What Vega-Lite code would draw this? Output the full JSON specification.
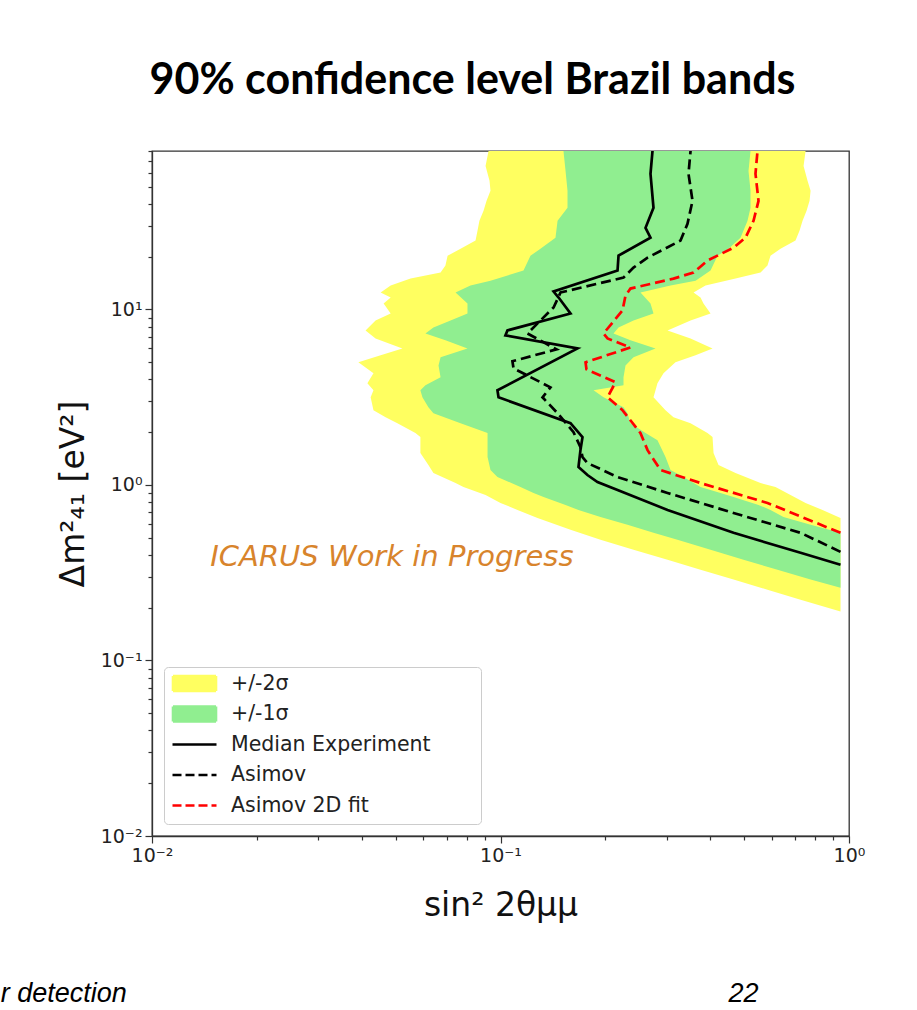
{
  "$schema": "https://vega.github.io/schema/vega-lite/v6.json",
  "width": 697,
  "height": 685,
  "autosize": {"type": "none"},
  "padding": {"left": 152, "top": 151, "right": 68, "bottom": 174},
  "background": "white",
  "title": {
    "text": "90% confidence level Brazil bands",
    "font": "Lato",
    "fontSize": 43,
    "fontWeight": "bold",
    "color": "black",
    "anchor": "middle",
    "baseline": "alphabetic",
    "dx": -28,
    "offset": 5
  },
  "config": {
    "view": {"stroke": "#333333", "strokeWidth": 1.3},
    "axis": {
      "grid": false,
      "domainColor": "#333333",
      "domainWidth": 1.3,
      "tickColor": "#333333",
      "tickWidth": 1.2,
      "labelFont": "DejaVu Sans",
      "labelFontSize": 19,
      "labelColor": "#222222",
      "labelPadding": 3,
      "labelOverlap": false,
      "labelFlush": false,
      "titleFont": "DejaVu Sans",
      "titleFontSize": 33,
      "titleFontWeight": "normal",
      "titleColor": "#111111"
    }
  },
  "datasets": {
    "empty": [],
    "bands": [
      {"series": "+/-2σ", "y": 80, "lo": 0.0924, "hi": 0.7506},
      {"series": "+/-2σ", "y": 65.8, "lo": 0.0906, "hi": 0.7407},
      {"series": "+/-2σ", "y": 54.1, "lo": 0.093, "hi": 0.7604},
      {"series": "+/-2σ", "y": 47.5, "lo": 0.0936, "hi": 0.7758},
      {"series": "+/-2σ", "y": 41.6, "lo": 0.0912, "hi": 0.7706},
      {"series": "+/-2σ", "y": 36.5, "lo": 0.0894, "hi": 0.7555},
      {"series": "+/-2σ", "y": 32.0, "lo": 0.087, "hi": 0.7358},
      {"series": "+/-2σ", "y": 28.1, "lo": 0.0859, "hi": 0.7211},
      {"series": "+/-2σ", "y": 24.7, "lo": 0.0848, "hi": 0.7023},
      {"series": "+/-2σ", "y": 22.2, "lo": 0.0768, "hi": 0.636},
      {"series": "+/-2σ", "y": 20.27, "lo": 0.0705, "hi": 0.5953},
      {"series": "+/-2σ", "y": 17.8, "lo": 0.0695, "hi": 0.5836},
      {"series": "+/-2σ", "y": 16.23, "lo": 0.0673, "hi": 0.5573},
      {"series": "+/-2σ", "y": 15.0, "lo": 0.0552, "hi": 0.4725},
      {"series": "+/-2σ", "y": 13.7, "lo": 0.0484, "hi": 0.3875},
      {"series": "+/-2σ", "y": 12.5, "lo": 0.0453, "hi": 0.358},
      {"series": "+/-2σ", "y": 11.7, "lo": 0.0484, "hi": 0.3749},
      {"series": "+/-2σ", "y": 10.82, "lo": 0.0462, "hi": 0.3824},
      {"series": "+/-2σ", "y": 9.49, "lo": 0.0484, "hi": 0.4006},
      {"series": "+/-2σ", "y": 8.66, "lo": 0.0438, "hi": 0.351},
      {"series": "+/-2σ", "y": 7.6, "lo": 0.041, "hi": 0.3015},
      {"series": "+/-2σ", "y": 6.84, "lo": 0.0438, "hi": 0.351},
      {"series": "+/-2σ", "y": 6.0, "lo": 0.0523, "hi": 0.4059},
      {"series": "+/-2σ", "y": 5.48, "lo": 0.0453, "hi": 0.3628},
      {"series": "+/-2σ", "y": 5.0, "lo": 0.0391, "hi": 0.3177},
      {"series": "+/-2σ", "y": 4.33, "lo": 0.0432, "hi": 0.2936},
      {"series": "+/-2σ", "y": 3.8, "lo": 0.0415, "hi": 0.2821},
      {"series": "+/-2σ", "y": 3.47, "lo": 0.0432, "hi": 0.2785},
      {"series": "+/-2σ", "y": 3.16, "lo": 0.0424, "hi": 0.2748},
      {"series": "+/-2σ", "y": 2.67, "lo": 0.0432, "hi": 0.2975},
      {"series": "+/-2σ", "y": 2.435, "lo": 0.0468, "hi": 0.3136},
      {"series": "+/-2σ", "y": 2.25, "lo": 0.0506, "hi": 0.351},
      {"series": "+/-2σ", "y": 1.975, "lo": 0.057, "hi": 0.3926},
      {"series": "+/-2σ", "y": 1.874, "lo": 0.0589, "hi": 0.4059},
      {"series": "+/-2σ", "y": 1.52, "lo": 0.0589, "hi": 0.4086},
      {"series": "+/-2σ", "y": 1.3, "lo": 0.0621, "hi": 0.4223},
      {"series": "+/-2σ", "y": 1.17, "lo": 0.0642, "hi": 0.4725},
      {"series": "+/-2σ", "y": 1.026, "lo": 0.0743, "hi": 0.5573},
      {"series": "+/-2σ", "y": 0.974, "lo": 0.0783, "hi": 0.6153},
      {"series": "+/-2σ", "y": 0.877, "lo": 0.0906, "hi": 0.6796},
      {"series": "+/-2σ", "y": 0.79, "lo": 0.1, "hi": 0.7506},
      {"series": "+/-2σ", "y": 0.721, "lo": 0.1119, "hi": 0.8395},
      {"series": "+/-2σ", "y": 0.649, "lo": 0.1277, "hi": 0.9454},
      {"series": "+/-2σ", "y": 0.555, "lo": 0.1588, "hi": 0.9454},
      {"series": "+/-2σ", "y": 0.487, "lo": 0.1936, "hi": 0.9454},
      {"series": "+/-2σ", "y": 0.427, "lo": 0.2408, "hi": 0.9454},
      {"series": "+/-2σ", "y": 0.375, "lo": 0.3015, "hi": 0.9454},
      {"series": "+/-2σ", "y": 0.329, "lo": 0.3749, "hi": 0.9454},
      {"series": "+/-2σ", "y": 0.289, "lo": 0.4663, "hi": 0.9454},
      {"series": "+/-2σ", "y": 0.253, "lo": 0.5836, "hi": 0.9454},
      {"series": "+/-2σ", "y": 0.222, "lo": 0.7261, "hi": 0.9454},
      {"series": "+/-2σ", "y": 0.19, "lo": 0.9454, "hi": 0.9454},
      {"series": "+/-1σ", "y": 80, "lo": 0.1516, "hi": 0.5217},
      {"series": "+/-1σ", "y": 61.6, "lo": 0.1537, "hi": 0.5148},
      {"series": "+/-1σ", "y": 47.5, "lo": 0.1557, "hi": 0.5217},
      {"series": "+/-1σ", "y": 37.97, "lo": 0.1557, "hi": 0.5217},
      {"series": "+/-1σ", "y": 32.0, "lo": 0.1458, "hi": 0.5115},
      {"series": "+/-1σ", "y": 25.66, "lo": 0.1438, "hi": 0.4884},
      {"series": "+/-1σ", "y": 22.2, "lo": 0.1302, "hi": 0.4511},
      {"series": "+/-1σ", "y": 20.27, "lo": 0.1219, "hi": 0.4195},
      {"series": "+/-1σ", "y": 16.66, "lo": 0.1164, "hi": 0.4006},
      {"series": "+/-1σ", "y": 14.6, "lo": 0.0936, "hi": 0.3628},
      {"series": "+/-1σ", "y": 13.7, "lo": 0.082, "hi": 0.3075},
      {"series": "+/-1σ", "y": 12.5, "lo": 0.0743, "hi": 0.2522},
      {"series": "+/-1σ", "y": 10.82, "lo": 0.0804, "hi": 0.2694},
      {"series": "+/-1σ", "y": 9.49, "lo": 0.0804, "hi": 0.2748},
      {"series": "+/-1σ", "y": 8.66, "lo": 0.0719, "hi": 0.2408},
      {"series": "+/-1σ", "y": 7.9, "lo": 0.0642, "hi": 0.2181},
      {"series": "+/-1σ", "y": 7.3, "lo": 0.0609, "hi": 0.211},
      {"series": "+/-1σ", "y": 6.67, "lo": 0.0695, "hi": 0.236},
      {"series": "+/-1σ", "y": 6.0, "lo": 0.0804, "hi": 0.2785},
      {"series": "+/-1σ", "y": 5.34, "lo": 0.0673, "hi": 0.2408},
      {"series": "+/-1σ", "y": 4.8, "lo": 0.0664, "hi": 0.2284},
      {"series": "+/-1σ", "y": 4.11, "lo": 0.0673, "hi": 0.2254},
      {"series": "+/-1σ", "y": 3.7, "lo": 0.0609, "hi": 0.2254},
      {"series": "+/-1σ", "y": 3.47, "lo": 0.0589, "hi": 0.1849},
      {"series": "+/-1σ", "y": 3.16, "lo": 0.0597, "hi": 0.1975},
      {"series": "+/-1σ", "y": 2.775, "lo": 0.0621, "hi": 0.2254},
      {"series": "+/-1σ", "y": 2.565, "lo": 0.0642, "hi": 0.2314},
      {"series": "+/-1σ", "y": 2.25, "lo": 0.0768, "hi": 0.236},
      {"series": "+/-1σ", "y": 1.975, "lo": 0.0918, "hi": 0.2607},
      {"series": "+/-1σ", "y": 1.8, "lo": 0.0918, "hi": 0.2821},
      {"series": "+/-1σ", "y": 1.443, "lo": 0.0918, "hi": 0.2975},
      {"series": "+/-1σ", "y": 1.217, "lo": 0.0936, "hi": 0.3075},
      {"series": "+/-1σ", "y": 1.11, "lo": 0.098, "hi": 0.3351},
      {"series": "+/-1σ", "y": 0.974, "lo": 0.1141, "hi": 0.3749},
      {"series": "+/-1σ", "y": 0.901, "lo": 0.1244, "hi": 0.4279},
      {"series": "+/-1σ", "y": 0.855, "lo": 0.1329, "hi": 0.4663},
      {"series": "+/-1σ", "y": 0.77, "lo": 0.1537, "hi": 0.55},
      {"series": "+/-1σ", "y": 0.721, "lo": 0.1674, "hi": 0.5953},
      {"series": "+/-1σ", "y": 0.658, "lo": 0.1936, "hi": 0.6487},
      {"series": "+/-1σ", "y": 0.593, "lo": 0.2314, "hi": 0.7758},
      {"series": "+/-1σ", "y": 0.534, "lo": 0.2748, "hi": 0.9454},
      {"series": "+/-1σ", "y": 0.487, "lo": 0.3219, "hi": 0.9454},
      {"series": "+/-1σ", "y": 0.427, "lo": 0.4006, "hi": 0.9454},
      {"series": "+/-1σ", "y": 0.375, "lo": 0.4981, "hi": 0.9454},
      {"series": "+/-1σ", "y": 0.329, "lo": 0.6234, "hi": 0.9454},
      {"series": "+/-1σ", "y": 0.289, "lo": 0.7758, "hi": 0.9454},
      {"series": "+/-1σ", "y": 0.26, "lo": 0.9454, "hi": 0.9454}
    ],
    "lines": [
      {"series": "Median Experiment", "y": 80, "x": 0.273},
      {"series": "Median Experiment", "y": 59.3, "x": 0.2694},
      {"series": "Median Experiment", "y": 37.97, "x": 0.2748},
      {"series": "Median Experiment", "y": 29.2, "x": 0.2607},
      {"series": "Median Experiment", "y": 25.66, "x": 0.2694},
      {"series": "Median Experiment", "y": 20.27, "x": 0.2181},
      {"series": "Median Experiment", "y": 16.66, "x": 0.2167},
      {"series": "Median Experiment", "y": 12.66, "x": 0.142},
      {"series": "Median Experiment", "y": 11.7, "x": 0.1468},
      {"series": "Median Experiment", "y": 9.49, "x": 0.1588},
      {"series": "Median Experiment", "y": 7.6, "x": 0.1047},
      {"series": "Median Experiment", "y": 7.12, "x": 0.1033},
      {"series": "Median Experiment", "y": 6.0, "x": 0.1663},
      {"series": "Median Experiment", "y": 3.465, "x": 0.098},
      {"series": "Median Experiment", "y": 3.16, "x": 0.0987},
      {"series": "Median Experiment", "y": 2.25, "x": 0.1588},
      {"series": "Median Experiment", "y": 1.874, "x": 0.1719},
      {"series": "Median Experiment", "y": 1.58, "x": 0.1696},
      {"series": "Median Experiment", "y": 1.266, "x": 0.1674},
      {"series": "Median Experiment", "y": 1.14, "x": 0.1776},
      {"series": "Median Experiment", "y": 1.04, "x": 0.1898},
      {"series": "Median Experiment", "y": 0.937, "x": 0.2167},
      {"series": "Median Experiment", "y": 0.721, "x": 0.3015},
      {"series": "Median Experiment", "y": 0.534, "x": 0.4663},
      {"series": "Median Experiment", "y": 0.411, "x": 0.7261},
      {"series": "Median Experiment", "y": 0.351, "x": 0.9454},
      {"series": "Asimov", "y": 80, "x": 0.351},
      {"series": "Asimov", "y": 59.3, "x": 0.3463},
      {"series": "Asimov", "y": 41.6, "x": 0.3556},
      {"series": "Asimov", "y": 30.8, "x": 0.344},
      {"series": "Asimov", "y": 24.7, "x": 0.3285},
      {"series": "Asimov", "y": 19.75, "x": 0.2642},
      {"series": "Asimov", "y": 17.33, "x": 0.2408},
      {"series": "Asimov", "y": 15.2, "x": 0.2254},
      {"series": "Asimov", "y": 12.5, "x": 0.1487},
      {"series": "Asimov", "y": 10.27, "x": 0.142},
      {"series": "Asimov", "y": 7.3, "x": 0.1195},
      {"series": "Asimov", "y": 5.93, "x": 0.1448},
      {"series": "Asimov", "y": 5.07, "x": 0.1082},
      {"series": "Asimov", "y": 4.62, "x": 0.109},
      {"series": "Asimov", "y": 3.6, "x": 0.1391},
      {"series": "Asimov", "y": 3.16, "x": 0.132},
      {"series": "Asimov", "y": 2.565, "x": 0.1458},
      {"series": "Asimov", "y": 2.0, "x": 0.162},
      {"series": "Asimov", "y": 1.644, "x": 0.1696},
      {"series": "Asimov", "y": 1.443, "x": 0.1719},
      {"series": "Asimov", "y": 1.334, "x": 0.1776},
      {"series": "Asimov", "y": 1.11, "x": 0.2167},
      {"series": "Asimov", "y": 0.901, "x": 0.3015},
      {"series": "Asimov", "y": 0.693, "x": 0.4663},
      {"series": "Asimov", "y": 0.534, "x": 0.7261},
      {"series": "Asimov", "y": 0.416, "x": 0.9454},
      {"series": "Asimov 2D fit", "y": 80, "x": 0.5463},
      {"series": "Asimov 2D fit", "y": 59.3, "x": 0.5391},
      {"series": "Asimov 2D fit", "y": 41.6, "x": 0.55},
      {"series": "Asimov 2D fit", "y": 32.0, "x": 0.5321},
      {"series": "Asimov 2D fit", "y": 25.66, "x": 0.5047},
      {"series": "Asimov 2D fit", "y": 22.5, "x": 0.4663},
      {"series": "Asimov 2D fit", "y": 19.0, "x": 0.3926},
      {"series": "Asimov 2D fit", "y": 16.23, "x": 0.358},
      {"series": "Asimov 2D fit", "y": 15.0, "x": 0.3136},
      {"series": "Asimov 2D fit", "y": 13.16, "x": 0.236},
      {"series": "Asimov 2D fit", "y": 12.0, "x": 0.2284},
      {"series": "Asimov 2D fit", "y": 9.87, "x": 0.2239},
      {"series": "Asimov 2D fit", "y": 7.3, "x": 0.1975},
      {"series": "Asimov 2D fit", "y": 6.84, "x": 0.2028},
      {"series": "Asimov 2D fit", "y": 6.08, "x": 0.236},
      {"series": "Asimov 2D fit", "y": 5.0, "x": 0.1754},
      {"series": "Asimov 2D fit", "y": 4.56, "x": 0.1765},
      {"series": "Asimov 2D fit", "y": 3.85, "x": 0.2138},
      {"series": "Asimov 2D fit", "y": 3.16, "x": 0.2028},
      {"series": "Asimov 2D fit", "y": 2.67, "x": 0.2239},
      {"series": "Asimov 2D fit", "y": 1.975, "x": 0.2522},
      {"series": "Asimov 2D fit", "y": 1.58, "x": 0.2642},
      {"series": "Asimov 2D fit", "y": 1.217, "x": 0.2878},
      {"series": "Asimov 2D fit", "y": 1.026, "x": 0.3749},
      {"series": "Asimov 2D fit", "y": 0.79, "x": 0.5836},
      {"series": "Asimov 2D fit", "y": 0.534, "x": 0.9454}
    ],
    "notes": [
      {"x": 0.0147, "y": 0.39, "label": "ICARUS Work in Progress", "kind": "wip"},
      {"x": 0.00368, "y": 0.00114, "label": "r detection", "kind": "footer"},
      {"x": 0.451, "y": 0.00114, "label": "22", "kind": "footer"}
    ]
  },
  "layer": [
    {
      "data": {"name": "bands"},
      "transform": [{"filter": "datum.series == '+/-2σ'"}],
      "mark": {"type": "area", "orient": "horizontal", "color": "#FFFF60", "opacity": 1},
      "encoding": {
        "y": {
          "field": "y", "type": "quantitative",
          "scale": {"type": "log", "domain": [0.01, 80], "nice": false},
          "axis": {
            "title": "Δm²₄₁ [eV²]",
            "titlePadding": 10,
            "values": [0.01, 0.02, 0.03, 0.04, 0.05, 0.06, 0.07, 0.08, 0.09, 0.1, 0.2, 0.3, 0.4, 0.5, 0.6, 0.7, 0.8, 0.9, 1, 2, 3, 4, 5, 6, 7, 8, 9, 10, 20, 30, 40, 50, 60, 70, 80],
            "labelExpr": "datum.value == 0.01 ? '10⁻²' : datum.value == 0.1 ? '10⁻¹' : datum.value == 1 ? '10⁰' : datum.value == 10 ? '10¹' : ''",
            "tickSize": {"condition": {"test": "datum.value == 0.01 || datum.value == 0.1 || datum.value == 1 || datum.value == 10", "value": 7}, "value": 4}
          }
        },
        "x": {
          "field": "lo", "type": "quantitative",
          "scale": {"type": "log", "domain": [0.01, 1], "nice": false},
          "axis": {
            "title": "sin² 2θμμ",
            "titlePadding": 24,
            "values": [0.01, 0.02, 0.03, 0.04, 0.05, 0.06, 0.07, 0.08, 0.09, 0.1, 0.2, 0.3, 0.4, 0.5, 0.6, 0.7, 0.8, 0.9, 1],
            "labelExpr": "datum.value == 0.01 ? '10⁻²' : datum.value == 0.1 ? '10⁻¹' : datum.value == 1 ? '10⁰' : ''",
            "tickSize": {"condition": {"test": "datum.value == 0.01 || datum.value == 0.1 || datum.value == 1", "value": 7}, "value": 4}
          }
        },
        "x2": {"field": "hi"}
      }
    },
    {
      "data": {"name": "bands"},
      "transform": [{"filter": "datum.series == '+/-1σ'"}],
      "mark": {"type": "area", "orient": "horizontal", "color": "#90EE90", "opacity": 1},
      "encoding": {
        "y": {"field": "y", "type": "quantitative"},
        "x": {"field": "lo", "type": "quantitative"},
        "x2": {"field": "hi"}
      }
    },
    {
      "data": {"name": "lines"},
      "transform": [{"filter": "datum.series == 'Median Experiment'"}],
      "mark": {"type": "line", "strokeWidth": 2.7, "color": "#000000", "clip": true},
      "encoding": {
        "y": {"field": "y", "type": "quantitative"},
        "x": {"field": "x", "type": "quantitative"},
        "order": {"field": "y", "type": "quantitative"}
      }
    },
    {
      "data": {"name": "lines"},
      "transform": [{"filter": "datum.series == 'Asimov'"}],
      "mark": {"type": "line", "strokeWidth": 2.7, "color": "#000000", "strokeDash": [10, 5], "clip": true},
      "encoding": {
        "y": {"field": "y", "type": "quantitative"},
        "x": {"field": "x", "type": "quantitative"},
        "order": {"field": "y", "type": "quantitative"}
      }
    },
    {
      "data": {"name": "lines"},
      "transform": [{"filter": "datum.series == 'Asimov 2D fit'"}],
      "mark": {"type": "line", "strokeWidth": 2.7, "color": "#FF0000", "strokeDash": [10, 5], "clip": true},
      "encoding": {
        "y": {"field": "y", "type": "quantitative"},
        "x": {"field": "x", "type": "quantitative"},
        "order": {"field": "y", "type": "quantitative"}
      }
    },
    {
      "data": {"name": "empty"},
      "mark": {"type": "point", "filled": false, "opacity": 1, "strokeWidth": 2.6},
      "encoding": {
        "fill": {
          "field": "series", "type": "nominal",
          "scale": {
            "domain": ["+/-2σ", "+/-1σ", "Median Experiment", "Asimov", "Asimov 2D fit"],
            "range": ["#FFFF60", "#90EE90", "transparent", "transparent", "transparent"]
          },
          "legend": {
            "title": null,
            "orient": "bottom-left",
            "offset": 12,
            "padding": 5,
            "fillColor": "rgba(255,255,255,0.85)",
            "strokeColor": "#cccccc",
            "cornerRadius": 4,
            "labelFont": "DejaVu Sans",
            "labelFontSize": 20.5,
            "labelColor": "#222222",
            "labelLimit": 400,
            "labelOffset": 39,
            "symbolSize": 400,
            "symbolStrokeWidth": 2.6,
            "symbolOpacity": 1,
            "rowPadding": 3.5,
            "labelExpr": "datum.label + '\u2800\u2800\u2800'"
          }
        },
        "stroke": {
          "field": "series", "type": "nominal",
          "scale": {
            "domain": ["+/-2σ", "+/-1σ", "Median Experiment", "Asimov", "Asimov 2D fit"],
            "range": ["#FFFF60", "#90EE90", "#000000", "#000000", "#FF0000"]
          }
        },
        "shape": {
          "field": "series", "type": "nominal",
          "scale": {
            "domain": ["+/-2σ", "+/-1σ", "Median Experiment", "Asimov", "Asimov 2D fit"],
            "range": ["M-0.75,-0.75H3.55V0.75H-0.75Z", "M-0.75,-0.75H3.55V0.75H-0.75Z", "M-0.8,0H3.6M-0.8,-0.75L-0.8,-0.75M-0.8,0.75L-0.8,0.75", "M-0.8,0H3.6M-0.8,-0.75L-0.8,-0.75M-0.8,0.75L-0.8,0.75", "M-0.8,0H3.6M-0.8,-0.75L-0.8,-0.75M-0.8,0.75L-0.8,0.75"]
          }
        },
        "strokeDash": {
          "field": "series", "type": "nominal",
          "scale": {
            "domain": ["+/-2σ", "+/-1σ", "Median Experiment", "Asimov", "Asimov 2D fit"],
            "range": [[1, 0], [1, 0], [1, 0], [9, 4], [9, 4]]
          }
        }
      }
    },
    {
      "data": {"name": "notes"},
      "transform": [{"filter": "datum.kind == 'wip'"}],
      "mark": {"type": "text", "align": "left", "baseline": "middle", "font": "DejaVu Sans", "fontSize": 29, "fontStyle": "italic", "color": "#D8842C"},
      "encoding": {
        "x": {"field": "x", "type": "quantitative"},
        "y": {"field": "y", "type": "quantitative"},
        "text": {"field": "label"}
      }
    },
    {
      "data": {"name": "notes"},
      "transform": [{"filter": "datum.kind == 'footer'"}],
      "mark": {"type": "text", "align": "left", "baseline": "alphabetic", "font": "Liberation Sans", "fontSize": 27, "fontStyle": "italic", "color": "#000000", "clip": false},
      "encoding": {
        "x": {"field": "x", "type": "quantitative"},
        "y": {"field": "y", "type": "quantitative"},
        "text": {"field": "label"}
      }
    }
  ]
}
